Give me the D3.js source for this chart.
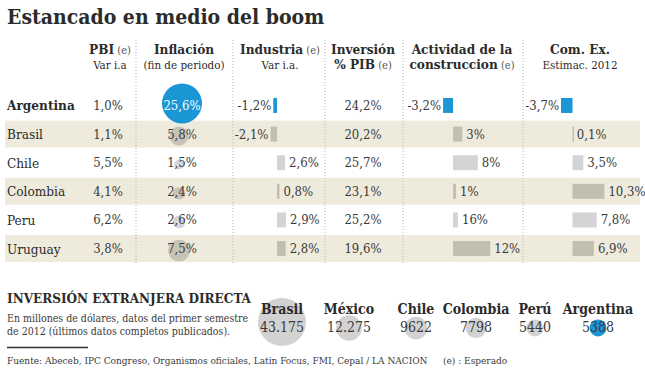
<!DOCTYPE html>
<html>
<head>
<meta charset="utf-8">
<script src="https://cdn.jsdelivr.net/npm/d3@7"></script>
<style>
  body { margin: 0; background: #fff; }
  svg text { font-family: "DejaVu Serif Condensed", "DejaVu Serif", serif; }
</style>
</head>
<body>
<div id="chart"></div>
<script>
// table data
var countries = ["Argentina", "Brasil", "Chile", "Colombia", "Peru", "Uruguay"];
var pbi = [1.0, 1.1, 5.5, 4.1, 6.2, 3.8];
var inflacion = [25.6, 5.8, 1.5, 2.4, 2.6, 7.5];
var industria = [-1.2, -2.1, 2.6, 0.8, 2.9, 2.8];
var inversion = [24.2, 20.2, 25.7, 23.1, 25.2, 19.6];
var construccion = [-3.2, 3, 8, 1, 16, 12];
// bar lengths as drawn in the original (Peru bar drawn much shorter than its 16% label)
var construccionBar = [-3.2, 3, 8, 1, 1.6, 12];
var comEx = [-3.7, 0.1, 3.5, 10.3, 7.8, 6.9];

// foreign direct investment
var ideCountries = ["Brasil", "México", "Chile", "Colombia", "Perú", "Argentina"];
var ideValues = [43175, 12275, 9622, 7798, 5440, 5388];

var svgW = 645, svgH = 372;
var blue = "#1b96d5";
var ink = "#2b2b2b";

var svg = d3.select("#chart").append("svg")
    .attr("width", svgW)
    .attr("height", svgH);

function fmt(v, dec) {
    return (dec == null ? String(v) : v.toFixed(dec)).replace(".", ",") + "%";
}
function fmtMiles(v) {
    return v >= 10000 ? d3.format(",")(v).replace(",", ".") : String(v);
}

// title
svg.append("text")
    .attr("x", 7).attr("y", 24)
    .attr("font-size", 21).attr("font-weight", "bold")
    .attr("fill", ink)
    .text("Estancado en medio del boom");

// rows
var y = d3.scaleBand().domain(countries).range([92, 262]).paddingInner(0.06);

svg.selectAll(".band")
    .data(countries)
    .enter()
    .filter(function (d, i) { return i % 2 == 1; })
    .append("rect")
    .attr("x", 5).attr("width", 635)
    .attr("y", function (d) { return y(d); })
    .attr("height", y.bandwidth())
    .attr("fill", "#eeebdd");

function cy(d) { return y(d) + y.bandwidth() / 2; }

// dotted column separators
var seps = [136, 233, 325, 403, 523];
svg.selectAll(".sep")
    .data(seps)
    .enter()
    .append("line")
    .attr("x1", function (d) { return d; }).attr("x2", function (d) { return d; })
    .attr("y1", 40).attr("y2", 264)
    .attr("stroke", "#b0b0b0").attr("stroke-width", 1)
    .attr("stroke-dasharray", "1,2");

// headers
var headers = [
    {x: 110, a: "PBI", e: true, sub: "Var i.a"},
    {x: 184, a: "Inflación", e: false, sub: "(fin de periodo)"},
    {x: 280, a: "Industria", e: true, sub: "Var i.a."},
    {x: 363, a: "Inversión", e: false, sub: null, a2: "% PIB"},
    {x: 462, a: "Actividad de la", e: false, sub: null, a2: "construccion"},
    {x: 580, a: "Com. Ex.", e: false, sub: "Estimac. 2012"}
];
headers.forEach(function (h) {
    var t = svg.append("text")
        .attr("x", h.x).attr("y", 54)
        .attr("text-anchor", "middle")
        .attr("fill", ink);
    t.append("tspan").attr("font-size", 13.5).attr("font-weight", "bold").text(h.a);
    if (h.e) t.append("tspan").attr("font-size", 11).attr("fill", "#555").text(" (e)");
    var t2 = svg.append("text")
        .attr("x", h.x).attr("y", 69)
        .attr("text-anchor", "middle")
        .attr("fill", ink);
    if (h.a2) {
        t2.append("tspan").attr("font-size", 13.5).attr("font-weight", "bold").text(h.a2);
        t2.append("tspan").attr("font-size", 11).attr("fill", "#555").text(" (e)");
    } else {
        t2.attr("font-size", 11.5).text(h.sub);
    }
});

// country names
svg.selectAll(".country")
    .data(countries)
    .enter()
    .append("text")
    .attr("x", 7)
    .attr("y", function (d) { return cy(d) + 5; })
    .attr("font-size", 13.5)
    .attr("font-weight", function (d, i) { return i == 0 ? "bold" : "normal"; })
    .attr("fill", ink)
    .text(function (d) { return d; });

function barColor(i) {
    if (i == 0) return blue;
    return i % 2 == 1 ? "#c3bfae" : "#d4d4d7";
}

// PBI values
svg.selectAll(".pbi")
    .data(pbi)
    .enter()
    .append("text")
    .attr("x", 108)
    .attr("y", function (d, i) { return cy(countries[i]) + 4.5; })
    .attr("text-anchor", "middle")
    .attr("font-size", 13)
    .attr("fill", "#3a3a3a")
    .text(function (d) { return fmt(d, 1); });

// inflation circles
var rInf = d3.scaleSqrt().domain([0, d3.max(inflacion)]).range([0, 20]);
svg.selectAll(".infc")
    .data(inflacion)
    .enter()
    .append("circle")
    .attr("cx", function (d, i) { return i == 0 ? 182 : 179; })
    .attr("cy", function (d, i) { return cy(countries[i]) + (i == 0 ? -2 : 2); })
    .attr("r", function (d) { return rInf(d); })
    .attr("fill", function (d, i) { return i == 0 ? blue : (i % 2 == 1 ? "#c7c3b6" : "#d6d6d8"); });
svg.selectAll(".inft")
    .data(inflacion)
    .enter()
    .append("text")
    .attr("x", 182)
    .attr("y", function (d, i) { return cy(countries[i]) + 4.5; })
    .attr("text-anchor", "middle")
    .attr("font-size", 13)
    .attr("fill", function (d, i) { return i == 0 ? "#fff" : "#3a3a3a"; })
    .text(function (d) { return fmt(d, 1); });

// bar columns
var pxPerPct = 3.1;
var barH = 15;
function barColumn(values, lens, zero, dec) {
    var x = d3.scaleLinear().domain([0, 10]).range([zero, zero + 10 * pxPerPct]);
    var g = svg.append("g");
    g.selectAll("rect")
        .data(lens)
        .enter()
        .append("rect")
        .attr("x", function (d) { return Math.min(x(0), x(d)); })
        .attr("width", function (d) { return Math.max(1.5, Math.abs(x(d) - x(0))); })
        .attr("y", function (d, i) { return cy(countries[i]) - barH / 2; })
        .attr("height", barH)
        .attr("fill", function (d, i) { return barColor(i); });
    g.selectAll("text")
        .data(values)
        .enter()
        .append("text")
        .attr("x", function (d, i) {
            var v = lens[i];
            return v < 0 ? x(v) - 2 : x(v) + 4;
        })
        .attr("y", function (d, i) { return cy(countries[i]) + 4.5; })
        .attr("text-anchor", function (d) { return d < 0 ? "end" : "start"; })
        .attr("font-size", 13)
        .attr("fill", "#3a3a3a")
        .text(function (d) { return fmt(d, dec); });
}
barColumn(industria, industria, 277, 1);
barColumn(construccion, construccionBar, 453, null);
barColumn(comEx, comEx, 572.5, 1);

// inversion values
svg.selectAll(".inv")
    .data(inversion)
    .enter()
    .append("text")
    .attr("x", 363)
    .attr("y", function (d, i) { return cy(countries[i]) + 4.5; })
    .attr("text-anchor", "middle")
    .attr("font-size", 13)
    .attr("fill", "#3a3a3a")
    .text(function (d) { return fmt(d, 1); });

// inversion extranjera directa
svg.append("text")
    .attr("x", 7).attr("y", 303)
    .attr("font-size", 13.4).attr("font-weight", "bold")
    .attr("fill", ink)
    .text("INVERSIÓN EXTRANJERA DIRECTA");
svg.append("text")
    .attr("x", 7).attr("y", 322)
    .attr("font-size", 10.5).attr("fill", "#3a3a3a")
    .text("En millones de dólares, datos del primer semestre");
svg.append("text")
    .attr("x", 7).attr("y", 335)
    .attr("font-size", 10.5).attr("fill", "#3a3a3a")
    .text("de 2012 (últimos datos completos publicados).");

var ideXs = [282, 349, 416, 476, 535, 598];
var rIde = d3.scaleSqrt().domain([0, d3.max(ideValues)]).range([0, 24]);
svg.selectAll(".idec")
    .data(ideValues)
    .enter()
    .append("circle")
    .attr("cx", function (d, i) { return ideXs[i]; })
    .attr("cy", function (d, i) { return i == 0 ? 322 : 328; })
    .attr("r", function (d) { return rIde(d); })
    .attr("fill", function (d, i) { return ideCountries[i] == "Argentina" ? blue : "#d2d2d2"; });
svg.selectAll(".iden")
    .data(ideCountries)
    .enter()
    .append("text")
    .attr("x", function (d, i) { return ideXs[i]; })
    .attr("y", 314)
    .attr("text-anchor", "middle")
    .attr("font-size", 14).attr("font-weight", "bold")
    .attr("fill", ink)
    .text(function (d) { return d; });
svg.selectAll(".idev")
    .data(ideValues)
    .enter()
    .append("text")
    .attr("x", function (d, i) { return ideXs[i]; })
    .attr("y", 332)
    .attr("text-anchor", "middle")
    .attr("font-size", 14)
    .attr("fill", "#3a3a3a")
    .text(function (d) { return fmtMiles(d); });

// footer
svg.append("line")
    .attr("x1", 7).attr("x2", 88)
    .attr("y1", 347.5).attr("y2", 347.5)
    .attr("stroke", "#333").attr("stroke-width", 1.5);
svg.append("text")
    .attr("x", 7).attr("y", 364)
    .attr("font-size", 10).attr("fill", "#3a3a3a")
    .text("Fuente: Abeceb, IPC Congreso, Organismos oficiales, Latin Focus, FMI, Cepal / LA NACION");
svg.append("text")
    .attr("x", 443).attr("y", 364)
    .attr("font-size", 10).attr("fill", "#3a3a3a")
    .text("(e) : Esperado");
</script>
</body>
</html>
